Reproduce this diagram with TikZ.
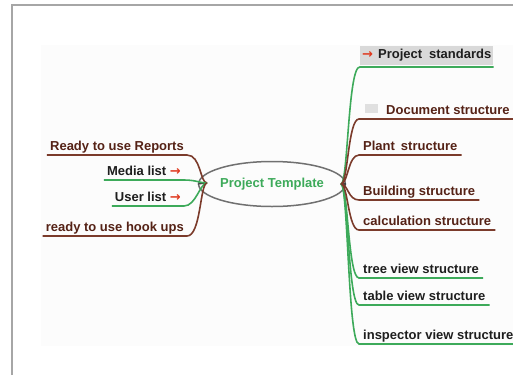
\documentclass[tikz,border=0pt]{standalone}
\usepackage{fontspec}
\setmainfont{Liberation Sans}
\newfontfamily\symfont{DejaVu Sans}
\usetikzlibrary{shapes.geometric,calc}
\definecolor{brn}{HTML}{7B3B2B}
\definecolor{grn}{HTML}{3DAA5A}
\definecolor{brntxt}{HTML}{552216}
\definecolor{dtxt}{HTML}{1E1E1E}
\definecolor{arrcol}{HTML}{E03A20}
\definecolor{framecol}{HTML}{A6A6A6}
\definecolor{ellcol}{HTML}{707070}
\newcommand{\redarr}{\textcolor{arrcol}{\symfont\bfseries →}}
\tikzset{
  lbl/.style={inner xsep=3pt, inner ysep=1pt, font=\fontsize{13}{15}\selectfont\bfseries, text height=10pt, text depth=3pt},
  rlbl/.style={lbl, anchor=south west, inner xsep=4pt},
  llbl/.style={lbl, anchor=south east},
  bline/.style={draw=brn, line width=1.6pt},
  gline/.style={draw=grn, line width=1.6pt},
}
\begin{document}
\begin{tikzpicture}[x=1pt,y=-1pt]
\useasboundingbox (0,0) rectangle (513,375);
% frame
\fill[black!1.2] (41,45) rectangle (513,346);
\draw[framecol, line width=2.2pt] (12,375) -- (12,5) -- (513,5);
% centre
\node[ellipse, draw=ellcol, line width=1.5pt, minimum width=120pt, minimum height=45pt, inner sep=0pt,
      text=grn, font=\fontsize{13}{15}\selectfont\bfseries] (pt) at (272,184) {Project Template};
\coordinate (R) at (341,184);
\coordinate (T) at (348,184);
\coordinate (L) at (207,183);
\coordinate (LT) at (200,183);
\draw[ellcol!60!black, line width=1.2pt] (pt.east) -- (R);
\draw[ellcol!60!black, line width=1.2pt] (pt.west) -- (L);
% right labels
\node[rlbl, inner xsep=2pt, inner ysep=3pt, fill=black!15, text=dtxt] (ps) at (360,65) {\redarr\hspace{5pt}Project\hspace{7pt}standards};
\node[rlbl, text=brntxt] (ds) at (359,119) {\hspace{2pt}\textcolor{black!12}{\rule[2pt]{13pt}{9pt}}\hspace{8pt}Document structure};
\node[rlbl, text=brntxt] (pl) at (359,155) {Plant\hspace{6pt}structure};
\node[rlbl, text=brntxt] (bs) at (359,200) {Building structure};
\node[rlbl, text=brntxt] (cs) at (359,230) {calculation structure};
\node[rlbl, text=dtxt] (tv) at (359,278) {tree view structure};
\node[rlbl, text=dtxt] (tb) at (359,305) {table view structure};
\node[rlbl, text=dtxt] (iv) at (359,344) {inspector view structure};
% right connectors
\draw[gline] (R) .. controls (T) and (T |- ps.south) .. ([yshift=-2pt]ps.south west) -- ([yshift=-2pt]ps.south east);
\draw[gline] (R) .. controls (T) and (T |- iv.south) .. (iv.south west) -- (iv.south east);
\draw[gline] (R) .. controls (T) and (T |- tv.south) .. (tv.south west) -- (tv.south east);
\draw[gline] (R) .. controls (T) and (T |- tb.south) .. (tb.south west) -- (tb.south east);
\draw[bline] (R) .. controls (T) and (T |- ds.south) .. (ds.south west) -- (ds.south east);
\draw[bline] (R) .. controls (T) and (T |- pl.south) .. (pl.south west) -- (pl.south east);
\draw[bline] (R) .. controls (T) and (T |- bs.south) .. (bs.south west) -- (bs.south east);
\draw[bline] (R) .. controls (T) and (T |- cs.south) .. (cs.south west) -- (cs.south east);
% left labels
\node[llbl, text=brntxt] (rr) at (187,155) {Ready to use Reports};
\node[llbl, text=dtxt] (ml) at (184,180) {Media list \redarr};
\node[llbl, text=dtxt] (ul) at (184,206) {User list \redarr};
\node[llbl, text=brntxt] (hk) at (187,236) {ready to use hook ups};
% left connectors
\draw[bline] (rr.south west) -- (rr.south east) .. controls ([xshift=14pt]rr.south east) and (LT) .. (L);
\draw[gline] (ml.south west) -- (ml.south east) .. controls ([xshift=12pt]ml.south east) and (LT) .. (L);
\draw[gline] (ul.south west) -- (ul.south east) .. controls ([xshift=12pt]ul.south east) and (LT) .. (L);
\draw[bline] (hk.south west) -- (hk.south east) .. controls ([xshift=14pt]hk.south east) and (LT) .. (L);
\end{tikzpicture}
\end{document}
